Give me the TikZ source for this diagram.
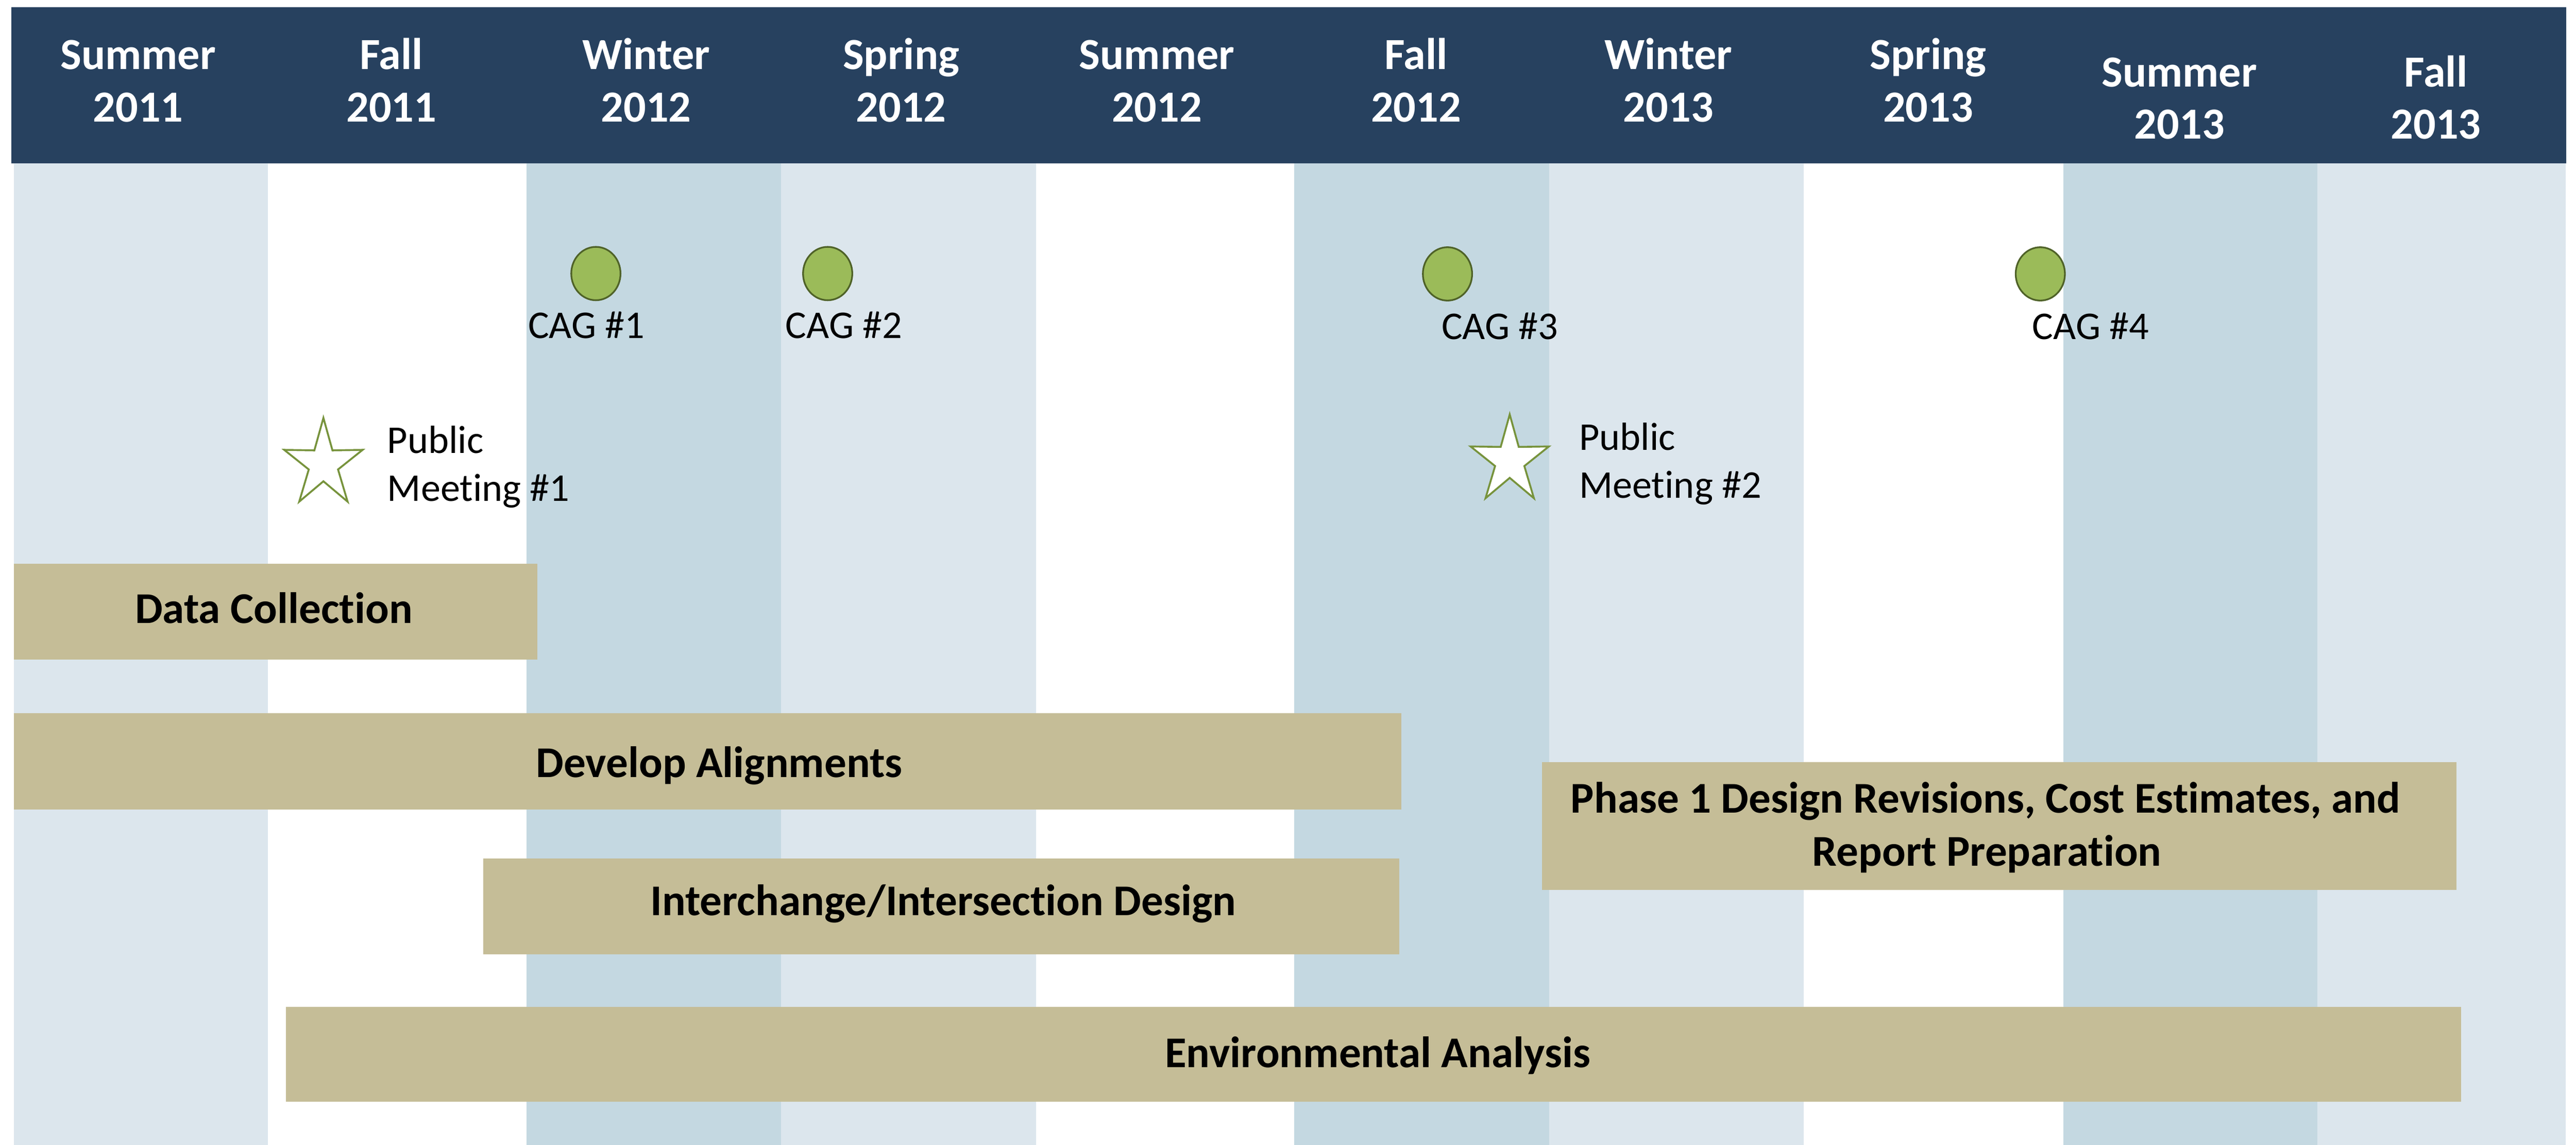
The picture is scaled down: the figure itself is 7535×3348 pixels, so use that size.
\documentclass[tikz,border=0pt]{standalone}
\usepackage{fontspec}
\setmainfont{Carlito}[Ligatures=NoCommon]
\usetikzlibrary{shapes.geometric}
\definecolor{navy}{HTML}{27415F}
\definecolor{colL}{HTML}{DCE6ED}
\definecolor{colD}{HTML}{C4D8E1}
\definecolor{tan}{HTML}{C5BD97}
\definecolor{cagfill}{HTML}{9BBB59}
\definecolor{cagline}{HTML}{4F6228}
\definecolor{starline}{HTML}{77933C}
\tikzset{
  x=0.1pt, y=-0.1pt,
  hdr/.style={font=\bfseries\fontsize{13}{15}\selectfont, text=white, inner sep=0pt, anchor=base},
  bartext/.style={font=\bfseries\fontsize{12.85}{15.5}\selectfont, text=black, inner sep=0pt, anchor=base},
  lbl/.style={font=\fontsize{11.5}{14}\selectfont, text=black, inner sep=0pt, anchor=base west},
  barbox/.style={fill=tan, draw=none, inner sep=0pt, outer sep=0pt, anchor=north west},
  cag/.style={ellipse, fill=cagfill, draw=cagline, line width=0.5pt, minimum width=14.4pt, minimum height=15.6pt, inner sep=0pt},
  starstyle/.style={fill=white, draw=starline, line width=0.55pt, line join=miter}
}
\begin{document}
\begin{tikzpicture}
\useasboundingbox (0,0) rectangle (7535,3348);
\fill[white] (0,0) rectangle (7535,3348);
% season columns
\foreach \a/\b/\c in {40/783/colL, 783/1540/white, 1540/2284/colD, 2284/3030/colL, 3030/3786/white, 3786/4532/colD, 4532/5276/colL, 5276/6035/white, 6035/6778/colD, 6778/7505/colL}{
  \fill[\c] (\a,477) rectangle (\b,3348);
}
% header
\fill[navy] (33,21) rectangle (7507,477);
\foreach \x/\s/\yr/\ya/\yb [count=\i] in {404/Summer/2011/203/356, 1145/Fall/2011/203/356, 1890/Winter/2012/203/356, 2636/Spring/2012/203/356, 3384/Summer/2012/203/356, 4142/Fall/2012/203/356, 4880/Winter/2013/203/356, 5640/Spring/2013/203/356, 6375/Summer/2013/254/406, 7125/Fall/2013/254/406}{
  \node[hdr] (season\i) at (\x,\ya) {\s};
  \node[hdr] (year\i) at (\x,\yb) {\yr};
}
% CAG meetings
\node[cag] (cag1) at (1743,800) {};
\node[cag] (cag2) at (2421,800) {};
\node[cag] (cag3) at (4234,801) {};
\node[cag] (cag4) at (5968,801) {};
\node[lbl] (cagl1) at (1543,990) {CAG \#1};
\node[lbl] (cagl2) at (2296,990) {CAG \#2};
\node[lbl] (cagl3) at (4215,992) {CAG \#3};
\node[lbl] (cagl4) at (5943,992) {CAG \#4};
% public meetings
\coordinate (star1) at (946,1357.5);
\coordinate (star2) at (4416,1347.5);
\foreach \s in {star1,star2}{
  \draw[starstyle, shift={(\s)}] (-90:120.4 and 135.4) -- (-54:45 and 50) -- (-18:120.4 and 135.4) -- (18:45 and 50) -- (54:120.4 and 135.4) -- (90:45 and 50) -- (126:120.4 and 135.4) -- (162:45 and 50) -- (198:120.4 and 135.4) -- (234:45 and 50) -- cycle;
}
\node[lbl] (pm1a) at (1131,1325) {Public};
\node[lbl] (pm1b) at (1131,1466) {Meeting \#1};
\node[lbl] (pm2a) at (4617,1316) {Public};
\node[lbl] (pm2b) at (4617,1456) {Meeting \#2};
% task bars
\node[barbox, minimum width=153.2pt, minimum height=28.1pt] (dc) at (40,1648) {};
\node[barbox, minimum width=405.9pt, minimum height=28.1pt] (da) at (40,2086) {};
\node[barbox, minimum width=267.9pt, minimum height=28.0pt] (iid) at (1414,2511) {};
\node[barbox, minimum width=267.6pt, minimum height=37.3pt] (p1) at (4510,2229) {};
\node[barbox, minimum width=636.3pt, minimum height=27.7pt] (ea) at (836,2945) {};
\node[bartext] (dct) at (801,1822) {Data Collection};
\node[bartext] (dat) at (2104,2273) {Develop Alignments};
\node[bartext] (iidt) at (2759,2677) {Interchange/Intersection Design};
\node[bartext] (p1t) at (5808,2377) {Phase 1 Design Revisions, Cost Estimates, and};
\node[bartext] (p1u) at (5812,2532) {Report Preparation};
\node[bartext] (eat) at (4030,3122) {Environmental Analysis};
\end{tikzpicture}
\end{document}
